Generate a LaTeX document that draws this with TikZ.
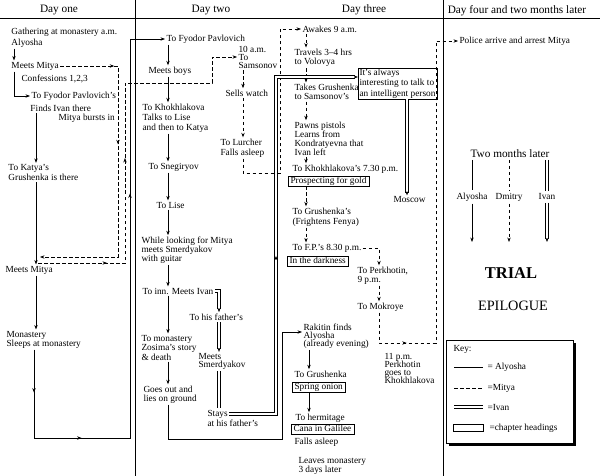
\documentclass[tikz,border=0pt]{standalone}
\usepackage{fontspec}
\setmainfont{Liberation Serif}
\usetikzlibrary{arrows.meta}
\usetikzlibrary{positioning}
\usetikzlibrary{decorations.markings}
\usetikzlibrary{shadows}

\begin{document}
\lineskiplimit=-20pt
\begin{tikzpicture}[x=1pt, y=-1pt,
    lbl/.style={anchor=west, inner sep=0pt, outer sep=1.5pt, align=left,
      font=\fontsize{9.3}{9.5}\selectfont},
    lead/.style={font=\fontsize{9.3}{#1}\selectfont},
    boxed/.style={lbl, draw, line width=0.6pt, outer sep=0pt},
    chap/.style={boxed, inner xsep=2.5pt, inner ysep=0.6pt,
      text height=6.6pt, text depth=2pt},
    head/.style={inner sep=0pt, font=\fontsize{11.3}{12}\selectfont},
    alyosha/.style={draw, line width=0.7pt},
    mitya/.style={draw, line width=0.7pt, dash pattern=on 3.5pt off 2.5pt},
    ivan/.style={draw, line width=0.85pt, double, double distance=1.5pt},
    tip/.style={-{Stealth[length=4.5pt, width=3.4pt]}},
    midtip/.style={postaction={decorate, decoration={markings,
      mark=at position #1 with {\arrow{Stealth[length=4.5pt, width=3.4pt]}}}}},
  ]

  \fill[white] (0,0) rectangle (600,476);
  \useasboundingbox (0,0) rectangle (600,476);

  % Column headings and rules
  \node[head] (dayone)   at (59,10)  {Day one};
  \node[head] (daytwo)   at (211,10) {Day two};
  \node[head] (daythree) at (364,10) {Day three};
  \node[head] (dayfour)  at (517,11) {Day four and two months later};
  \draw[line width=0.6pt] (0,18.5) -- (600,18.5);
  \draw[line width=0.6pt] (135,0) -- (135,476);
  \draw[line width=0.6pt] (443,0) -- (443,476);

  % Day one
  \node[lbl] (gather)   at (10,32)  {Gathering at monastery a.m.};
  \node[lbl] (alyosha1) at (10,43)  {Alyosha};
  \node[lbl] (meet1)    at (10,66)  {Meets Mitya};
  \node[lbl] (confess)  at (20,79)  {Confessions 1,2,3};
  \node[lbl] (fyodor1)  at (30,96)  {To Fyodor Pavlovich's};
  \node[lbl] (findivan) at (29,108) {Finds Ivan there};
  \node[lbl] (bursts)   at (57,118) {Mitya bursts in};
  \node[lbl, lead=10] (katya1) at (7,172.5) {To Katya's\\Grushenka is there};
  \node[lbl] (meet2)    at (4,270)  {Meets Mitya};
  \node[lbl, lead=9] (monast1) at (5,339.5) {Monastery\\Sleeps at monastery};

  % Day two
  \node[lbl] (fyodor2) at (165,39) {To Fyodor Pavlovich};
  \node[lbl] (boys)    at (147,71) {Meets boys};
  \node[lbl, lead=10] (khokh1) at (141,118) {To Khokhlakova\\Talks to Lise\\and then to Katya};
  \node[lbl] (snegir)  at (147,167) {To Snegiryov};
  \node[lbl] (lise)    at (155,205) {To Lise};
  \node[lbl, lead=9] (looking) at (140,250) {While looking for Mitya\\meets Smerdyakov\\with guitar};
  \node[lbl] (inn)     at (141,291) {To inn. Meets Ivan};
  \node[lbl, lead=9.5] (monast2) at (140,347.5) {To monastery\\Zosima's story\\\& death};
  \node[lbl, lead=9] (liesdown) at (142,394.5) {Goes out and\\lies on ground};
  \node[lbl] (father)  at (188,317) {To his father's};
  \node[lbl, lead=8] (smerd) at (197,361.5) {Meets\\Smerdyakov};
  \node[lbl] (stays)   at (206,414) {Stays};
  \node[lbl] (stays2)  at (206,423) {at his father's};
  \node[lbl, lead=8.2] (samson) at (237,57.5) {10 a.m.\\To\\Samsonov};
  \node[lbl] (watch)   at (224,93)  {Sells watch};
  \node[lbl, lead=10] (lurcher) at (219,148) {To Lurcher\\Falls asleep};

  % Day three
  \node[lbl] (awake) at (301,29) {Awakes 9 a.m.};
  \node[lbl, lead=9.5] (volovya) at (293,58) {Travels 3--4 hrs\\to Volovya};
  \node[lbl, lead=9.5] (takes) at (293,92) {Takes Grushenka\\to Samsonov's};
  \node[lbl, lead=9] (pistols) at (293,138.5) {Pawns pistols\\Learns from\\Kondratyevna that\\Ivan left};
  \node[lbl] (khokh2) at (291,169) {To Khokhlakova's 7.30 p.m.};
  \node[chap] (gold) at (288,181.5) {Prospecting for gold};
  \node[lbl, lead=10] (grush1) at (291,217) {To Grushenka's\\(Frightens Fenya)};
  \node[lbl] (fp) at (291,248) {To F.P.'s 8.30 p.m.};
  \node[chap] (dark) at (287,261) {In the darkness};
  \node[lbl, lead=9] (perk) at (356,275.5) {To Perkhotin,\\9 p.m.};
  \node[lbl] (mokroye) at (356,307) {To Mokroye};
  \node[lbl, lead=8] (perk2) at (383,368.5) {11 p.m.\\Perkhotin\\goes to\\Khokhlakova};
  \node[boxed, lead=10.5, inner xsep=1.5pt, inner ysep=0.8pt] (talk) at (358,83.5)
    {It's always\\interesting to talk to\\an intelligent person};
  \node[lbl] (moscow) at (392,200) {Moscow};
  \node[lbl, lead=8.2] (rakitin) at (302,336) {Rakitin finds\\Alyosha\\(already evening)};
  \node[lbl] (grush2) at (293,374) {To Grushenka};
  \node[chap] (onion) at (292,387) {Spring onion};
  \node[lbl] (hermit) at (294,418) {To hermitage};
  \node[chap] (cana) at (291,429.5) {Cana in Galilee};
  \node[lbl] (asleep) at (293,442) {Falls asleep};
  \node[lbl, lead=8.5] (leaves) at (297,466) {Leaves monastery\\3 days later};

  % Day four
  \node[lbl] (police) at (458,41) {Police arrive and arrest Mitya};
  \node[inner sep=0pt, outer sep=2pt, font=\fontsize{11.3}{12}\selectfont] (later) at (510,154) {Two months later};
  \node[lbl, anchor=center, outer sep=2.5pt] (endaly) at (472,197) {Alyosha};
  \node[lbl, anchor=center, outer sep=2.5pt] (endmit) at (509,197) {Dmitry};
  \node[lbl, anchor=center, outer sep=2.5pt] (endiva) at (547,197) {Ivan};
  \coordinate (trialaly) at (472,242);
  \coordinate (trialmit) at (509,242);
  \coordinate (trialiva) at (547,242);
  \node[inner sep=0pt, font=\fontsize{16.5}{18}\selectfont\bfseries] (trial) at (511,273) {TRIAL};
  \node[inner sep=0pt, font=\fontsize{14.3}{16}\selectfont] (epilogue) at (513,306) {EPILOGUE};

  \draw[alyosha] (later.south -| endaly) -- (endaly.north);
  \draw[alyosha, tip] (endaly.south) -- (trialaly);
  \draw[mitya] (later.south -| endmit) -- (endmit.north);
  \draw[mitya, tip] (endmit.south) -- (trialmit);
  \draw[ivan] (later.south -| endiva) -- (endiva.north);
  \draw[ivan, tip] (endiva.south) -- (trialiva);

  % Alyosha, day one
  \coordinate (ax1) at (14,0);
  \coordinate (ax2) at (36,0);
  \coordinate (ax3) at (34,438);
  \coordinate (ax4) at (130,438);
  \draw[alyosha, tip] (alyosha1.south -| ax1) -- (meet1.north -| ax1);
  \draw[alyosha, tip] (meet1.south -| ax1) |- (fyodor1.west);
  \draw[alyosha, tip] (findivan.south -| ax2) -- (katya1.north -| ax2);
  \draw[alyosha, tip] (katya1.south -| ax2) -- (meet2.north -| ax2);
  \draw[alyosha, tip] (meet2.south -| ax2) -- (monast1.north -| ax2);
  \draw[alyosha, tip, midtip=43pt, midtip=136pt, midtip=429pt]
    (monast1.south -| ax3) -- (ax3) -- (ax4) -- (ax4 |- fyodor2.west) -- (fyodor2.west);

  % Alyosha, day two and three
  \coordinate (ax5) at (168,0);
  \coordinate (ax6) at (282,439);
  \coordinate (ax7) at (282,332);
  \coordinate (ax8) at (309,0);
  \draw[alyosha, tip] (fyodor2.south -| ax5) -- (boys.north -| ax5);
  \draw[alyosha, tip] (boys.south -| ax5) -- (khokh1.north -| ax5);
  \draw[alyosha, tip] (khokh1.south -| ax5) -- (snegir.north -| ax5);
  \draw[alyosha, tip] (snegir.south -| ax5) -- (lise.north -| ax5);
  \draw[alyosha, tip] (lise.south -| ax5) -- (looking.north -| ax5);
  \draw[alyosha, tip] (looking.south -| ax5) -- (inn.north -| ax5);
  \draw[alyosha, tip] (inn.south -| ax5) -- (monast2.north -| ax5);
  \draw[alyosha, tip] (monast2.south -| ax5) -- (liesdown.north -| ax5);
  \draw[alyosha, tip] (liesdown.south -| ax5) |- (ax6) -- (ax7) -- (ax7 -| rakitin.west);
  \draw[alyosha, tip] (rakitin.south -| ax8) -- (grush2.north -| ax8);
  \draw[alyosha, tip] (onion.south -| ax8) -- (hermit.north -| ax8);

  % Mitya
  \coordinate (mx1) at (118,257);
  \coordinate (mend1) at (40,257);
  \coordinate (mstart2) at (38,263);
  \coordinate (mx2) at (125,83);
  \coordinate (mx3) at (212,57);
  \coordinate (mx4) at (243,0);
  \coordinate (mx5) at (280,173);
  \coordinate (mx6) at (306,0);
  \coordinate (mx7) at (379,0);
  \coordinate (mx8) at (436,343);
  \draw[mitya, tip, midtip=54pt, midtip=136pt] (meet1.east) -| (mx1) -- (mend1);
  \draw[mitya, tip, midtip=69pt, midtip=192pt] (mstart2) -| (mx2) -| (mx3) -- (mx3 -| samson.west);
  \draw[mitya, tip] (samson.south -| mx4) -- (watch.north -| mx4);
  \draw[mitya, tip] (watch.south -| mx4) -- (lurcher.north -| mx4);
  \draw[mitya, tip] (lurcher.south -| mx4) |- (mx5) |- (awake.west);
  \draw[mitya, tip] (awake.south -| mx6) -- (volovya.north -| mx6);
  \draw[mitya, tip] (volovya.south -| mx6) -- (takes.north -| mx6);
  \draw[mitya, tip] (takes.south -| mx6) -- (pistols.north -| mx6);
  \draw[mitya, tip] (pistols.south -| mx6) -- (khokh2.north -| mx6);
  \draw[mitya, tip] (gold.south -| mx6) -- (grush1.north -| mx6);
  \draw[mitya, tip] (grush1.south -| mx6) -- (fp.north -| mx6);
  \draw[mitya, tip] (fp.east) -| (perk.north -| mx7);
  \draw[mitya, tip] (perk.south -| mx7) -- (mokroye.north -| mx7);
  \draw[mitya, tip, midtip=58pt] (mokroye.south -| mx7) |- (mx8) |- (police.west);

  % Ivan
  \coordinate (ix1) at (219,0);
  \coordinate (ix2) at (276,77);
  \coordinate (ix3) at (407,0);
  \draw[ivan, tip] (inn.east) -| (father.north -| ix1);
  \draw[ivan, tip] (father.south -| ix1) -- (smerd.north -| ix1);
  \draw[ivan] (smerd.south -| ix1) -- (stays.north -| ix1);
  \draw[ivan, tip, midtip=205pt] (stays.east) -| (ix2) -- (ix2 -| talk.west);
  \draw[ivan, tip] (talk.south -| ix3) -- (moscow.north -| ix3);

  % Key
  \node[draw, line width=0.6pt, fill=white, minimum width=127pt, minimum height=103pt,
    inner sep=0pt, drop shadow={shadow xshift=2.5pt, shadow yshift=-2.5pt,
    fill=black, opacity=1}] (key) at (509.5,391.5) {};
  \node[lbl] (keytitle) at (452,349) {Key:};
  \node[lbl] (keyaly)  at (486,367) {= Alyosha};
  \node[lbl] (keymit)  at (486,388) {=Mitya};
  \node[lbl] (keyiva)  at (486,407) {=Ivan};
  \node[lbl] (keychap) at (488,428) {=chapter headings};
  \draw[alyosha] ([xshift=-32pt]keyaly.west) -- ([xshift=-3pt]keyaly.west);
  \draw[mitya] ([xshift=-32pt]keymit.west) -- ([xshift=-3pt]keymit.west);
  \draw[ivan] ([xshift=-32pt]keyiva.west) -- ([xshift=-3pt]keyiva.west);
  \draw[line width=0.6pt] ([xshift=-35pt, yshift=3.5pt]keychap.west)
    rectangle ([xshift=-5pt, yshift=-3.5pt]keychap.west);

\end{tikzpicture}
\end{document}
